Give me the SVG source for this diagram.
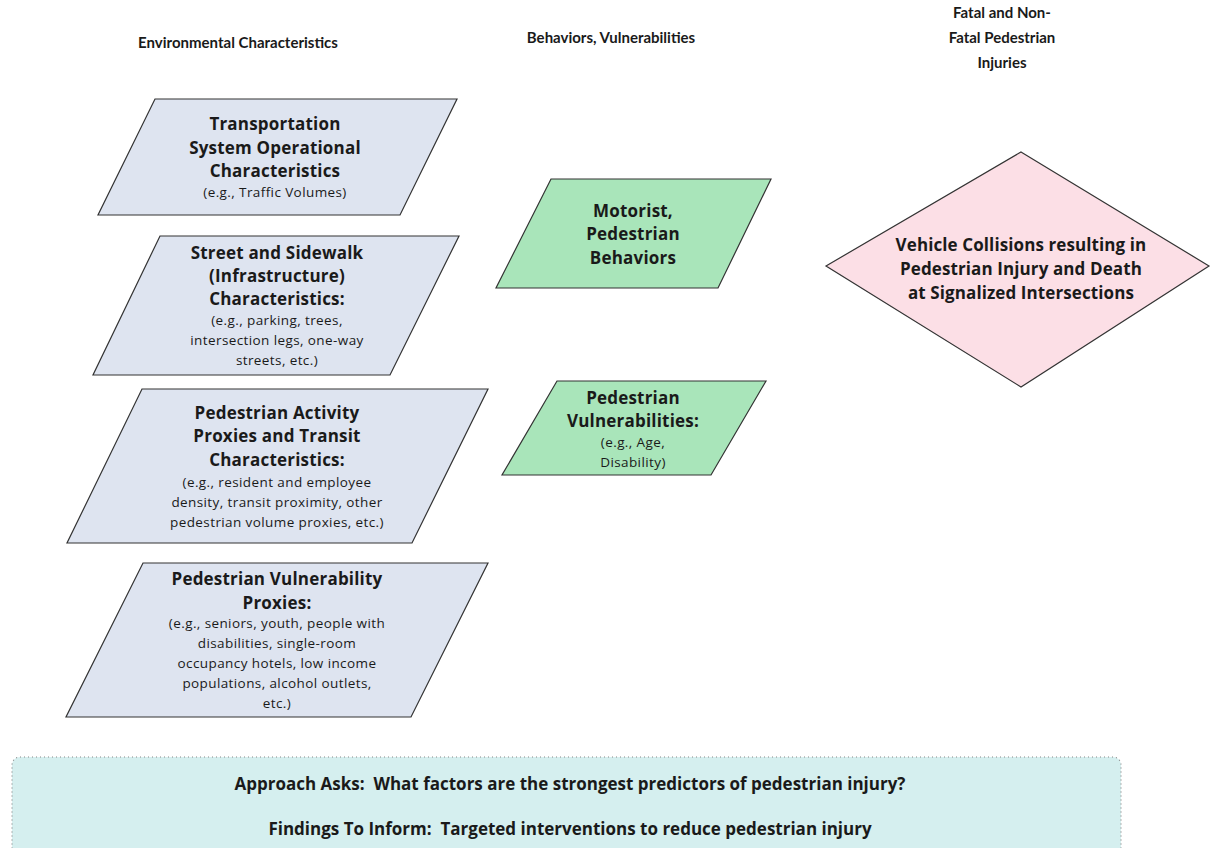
<svg xmlns="http://www.w3.org/2000/svg" width="1211" height="848" viewBox="0 0 1211 848">
<style>
  text { font-family: "Open Sans", "Noto Sans", sans-serif; fill: #1a1a1a; text-anchor: middle; dominant-baseline: central; }
  .h { font-family: Lato, "Liberation Sans", sans-serif; font-size: 15px; font-weight: bold; }
  .t { font-size: 17px; font-weight: bold; letter-spacing: 0.2px; }
  .d { font-size: 17px; font-weight: bold; letter-spacing: 0.1px; }
  .s { font-size: 13.5px; letter-spacing: 0.4px; }
  .env { fill: #dee4f0; stroke: #333; stroke-width: 1.2; }
  .beh { fill: #a9e5ba; stroke: #333; stroke-width: 1.2; }
  .out { fill: #fcdfe6; stroke: #333; stroke-width: 1.2; }
  .note { fill: #d5efef; stroke: #888; stroke-width: 1.2; stroke-dasharray: 1 3; }
  .b { font-size: 17px; font-weight: bold; }
</style>
<rect width="1211" height="848" fill="#ffffff"/>
<g id="headers">
  <text class="h" x="238" y="42">Environmental Characteristics</text>
  <text class="h" x="611" y="37">Behaviors, Vulnerabilities</text>
  <text class="h" x="1002" y="12">Fatal and Non-</text>
  <text class="h" x="1002" y="37">Fatal Pedestrian</text>
  <text class="h" x="1002" y="62">Injuries</text>
</g>
<g id="env1">
  <polygon class="env" points="155,99 457,99 400,215 98,215"/>
  <text class="t" x="275" y="123">Transportation</text>
  <text class="t" x="275" y="147">System Operational</text>
  <text class="t" x="275" y="170">Characteristics</text>
  <text class="s" x="275" y="192">(e.g., Traffic Volumes)</text>
</g>
<g id="env2">
  <polygon class="env" points="160,236 459,236 390,375 93,375"/>
  <text class="t" x="277" y="252">Street and Sidewalk</text>
  <text class="t" x="277" y="275">(Infrastructure)</text>
  <text class="t" x="277" y="298">Characteristics:</text>
  <text class="s" x="277" y="320">(e.g., parking, trees,</text>
  <text class="s" x="277" y="340">intersection legs, one-way</text>
  <text class="s" x="277" y="360">streets, etc.)</text>
</g>
<g id="env3">
  <polygon class="env" points="142,389 488,389 412,543 67,543"/>
  <text class="t" x="277" y="412">Pedestrian Activity</text>
  <text class="t" x="277" y="435">Proxies and Transit</text>
  <text class="t" x="277" y="459">Characteristics:</text>
  <text class="s" x="277" y="482">(e.g., resident and employee</text>
  <text class="s" x="277" y="502">density, transit proximity, other</text>
  <text class="s" x="277" y="522">pedestrian volume proxies, etc.)</text>
</g>
<g id="env4">
  <polygon class="env" points="143,563 488,563 411,717 66,717"/>
  <text class="t" x="277" y="578">Pedestrian Vulnerability</text>
  <text class="t" x="277" y="602">Proxies:</text>
  <text class="s" x="277" y="623">(e.g., seniors, youth, people with</text>
  <text class="s" x="277" y="643">disabilities, single-room</text>
  <text class="s" x="277" y="663">occupancy hotels, low income</text>
  <text class="s" x="277" y="683">populations, alcohol outlets,</text>
  <text class="s" x="277" y="703">etc.)</text>
</g>
<g id="beh1">
  <polygon class="beh" points="551,179 771,179 718,288 496,288"/>
  <text class="t" x="633" y="210">Motorist,</text>
  <text class="t" x="633" y="233">Pedestrian</text>
  <text class="t" x="633" y="257">Behaviors</text>
</g>
<g id="beh2">
  <polygon class="beh" points="557,381 766,381 711,475 502,475"/>
  <text class="t" x="633" y="397">Pedestrian</text>
  <text class="t" x="633" y="420">Vulnerabilities:</text>
  <text class="s" x="633" y="442">(e.g., Age,</text>
  <text class="s" x="633" y="462">Disability)</text>
</g>
<g id="outcome">
  <polygon class="out" points="1021,152 1209,266 1021,387 826,266"/>
  <text class="d" x="1021" y="244">Vehicle Collisions resulting in</text>
  <text class="d" x="1021" y="268">Pedestrian Injury and Death</text>
  <text class="d" x="1021" y="292">at Signalized Intersections</text>
</g>
<g id="connectors"></g>
<g id="note">
  <rect class="note" x="12" y="757" width="1109" height="110" rx="8"/>
  <text class="b" x="570" y="783" xml:space="preserve">Approach Asks:  What factors are the strongest predictors of pedestrian injury?</text>
  <text class="b" x="570" y="828" xml:space="preserve">Findings To Inform:  Targeted interventions to reduce pedestrian injury</text>
</g>
</svg>
